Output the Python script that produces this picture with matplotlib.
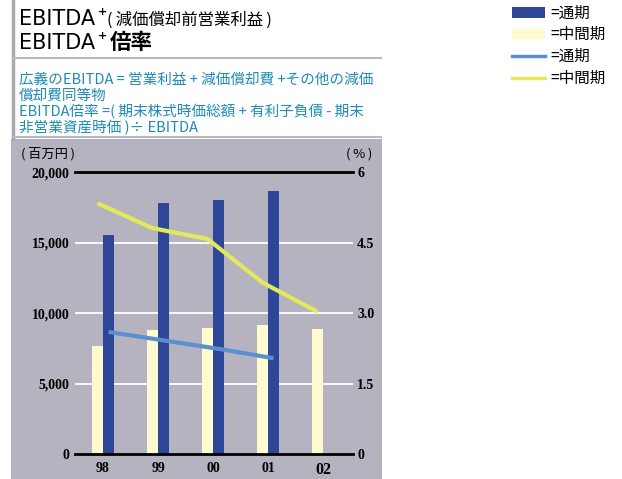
import numpy as np
import matplotlib.pyplot as plt
from matplotlib.patches import Rectangle
from matplotlib.lines import Line2D

plt.rcParams['font.family'] = ['Noto Sans CJK JP', 'DejaVu Sans']

# ---- data ----
years = ["98", "99", "00", "01", "02"]
ebitda_annual = [15550, 17850, 18000, 18700]          # 通期 (百万円)
ebitda_interim = [7650, 8800, 8950, 9150, 8850]      # 中間期 (百万円)
ratio_annual = [2.60, 2.42, 2.24, 2.04]              # 通期 倍率 (%)
ratio_interim = [5.34, 4.81, 4.58, 3.65, 3.03]       # 中間期 倍率 (%)
left_ticks = [0, 5000, 10000, 15000, 20000]
right_ticks = [0, 1.5, 3.0, 4.5, 6]
right_labels = ["0", "1.5", "3.0", "4.5", "6"]

NAVY = "#2d4698"
CREAM = "#fffbcf"
BLUE = "#5b8fd2"
YELLOW = "#e2ea5c"
PANEL = "#b5b3bf"
TEAL = "#1e8cb6"
W, H = 622, 479

fig = plt.figure(figsize=(W / 100, H / 100), dpi=100)


def fx(px):
    return px / W


def fy(py):
    return 1 - py / H


# background panel and header rules
fig.patches.append(Rectangle((fx(11), 0), fx(371), fy(139), transform=fig.transFigure,
                             facecolor=PANEL, edgecolor="none", zorder=-5))
fig.add_artist(Line2D([fx(13), fx(13)], [fy(0), fy(139)], color="#a9a9b0", lw=2.5, zorder=-4))
fig.add_artist(Line2D([fx(13), fx(381)], [fy(58), fy(58)], color="#b8b8c0", lw=1.5, zorder=-4))
fig.add_artist(Line2D([fx(13), fx(381)], [fy(137.5), fy(137.5)], color="#b8b8c0", lw=1.5, zorder=-4))

# title block
fig.text(fx(19), fy(25), "EBITDA", fontsize=15, family="DejaVu Sans", va="baseline")
fig.text(fx(98), fy(15), "+", fontsize=8, fontweight="bold", family="DejaVu Sans", va="baseline")
fig.text(fx(107), fy(25), "(\u2009減価償却前営業利益\u2009)", fontsize=11.8,
         family=["Noto Sans CJK JP", "DejaVu Sans"], va="baseline")
fig.text(fx(19), fy(49), "EBITDA", fontsize=15, family="DejaVu Sans", va="baseline")
fig.text(fx(98), fy(39), "+", fontsize=8, fontweight="bold", family="DejaVu Sans", va="baseline")
fig.text(fx(110), fy(49), "倍率", fontsize=15.5, fontweight="bold", va="baseline")

notes = [
    "広義のEBITDA = 営業利益 + 減価償却費 +その他の減価",
    "償却費同等物",
    "EBITDA倍率 =( 期末株式時価総額 + 有利子負債 - 期末",
    "非営業資産時価 )÷ EBITDA",
]
for i, line in enumerate(notes):
    fig.text(fx(19), fy(84 + 16 * i), line, fontsize=10.5, color=TEAL, va="baseline")

# legend
fig.patches.append(Rectangle((fx(512), fy(18)), fx(33), fy(0) - fy(11), transform=fig.transFigure,
                             facecolor=NAVY, edgecolor="none"))
fig.patches.append(Rectangle((fx(512), fy(39)), fx(33), fy(0) - fy(10), transform=fig.transFigure,
                             facecolor=CREAM, edgecolor="none"))
fig.add_artist(Line2D([fx(512), fx(545)], [fy(55.5), fy(55.5)], color=BLUE, lw=2.5))
fig.add_artist(Line2D([fx(512), fx(545)], [fy(78), fy(78)], color=YELLOW, lw=2.5))
for yy, lab in zip([13, 34, 56, 78], ["=通期", "=中間期", "=通期", "=中間期"]):
    fig.text(fx(550), fy(yy), lab, fontsize=11.2, va="center")

# ---- chart ----
ax = fig.add_axes([fx(75), fy(454), fx(353 - 75), fy(172.3) - fy(454)])
ax.set_facecolor("none")
ax2 = ax.twinx()

x = np.arange(len(years))
bw = 0.2
ax.bar(x - bw / 2, ebitda_interim, width=bw, color=CREAM, zorder=3)
ax.bar(x[:len(ebitda_annual)] + bw / 2, ebitda_annual, width=bw, color=NAVY, zorder=3)

ax.set_xlim(-0.51, 4.545)
ax.set_ylim(0, 20000)
ax2.set_ylim(0, 6)

for v in left_ticks[1:-1]:
    ax.axhline(v, color="white", lw=1.3, zorder=1)
for v in [0, 20000]:
    ax.axhline(v, color="black", lw=2, zorder=4, clip_on=False)

ax2.plot(x[:len(ratio_annual)] + bw / 2, ratio_annual, color=BLUE, lw=3, solid_capstyle="butt", zorder=5)
ax2.plot(x - bw / 2, ratio_interim, color=YELLOW, lw=3, solid_capstyle="butt", zorder=5)

num_font = dict(family="Liberation Serif", fontweight="bold", fontsize=10)
ax.set_yticks(left_ticks)
ax.set_yticklabels([f"{v:,}" for v in left_ticks], **num_font)
ax2.set_yticks(right_ticks)
ax2.set_yticklabels(right_labels, **num_font)
ax.set_xticks(x)
ax.set_xticklabels(years, **num_font)
ax.get_xticklabels()[-1].set_fontsize(11.5)
ax.tick_params(length=0, pad=4)
ax2.tick_params(length=0, pad=3)
ax.tick_params(axis="x", pad=6)
for a in (ax, ax2):
    for s in a.spines.values():
        s.set_visible(False)

fig.text(fx(21), fy(154), "(\u2009百万円\u2009)", fontsize=9.5, va="center",
         family=["Noto Sans CJK JP", "DejaVu Sans"])
fig.text(fx(346), fy(154), "(\u2009%\u2009)", fontsize=9.5, va="center",
         family=["Noto Sans CJK JP", "DejaVu Sans"])

fig.savefig("out.png", dpi=100)
